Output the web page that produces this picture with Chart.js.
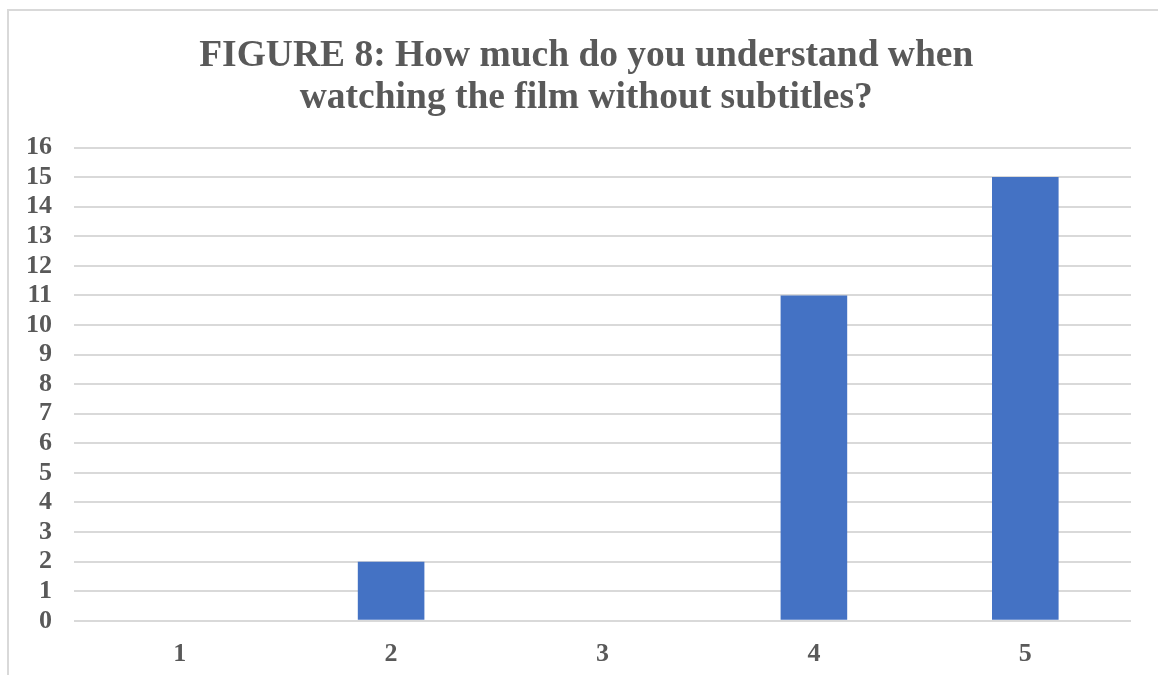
<!DOCTYPE html>
<html>
<head>
<meta charset="utf-8">
<script src="https://cdn.jsdelivr.net/npm/chart.js@4"></script>
<style>
  body { margin: 0; background: #fff; }
  #frame { position: absolute; left: 7px; top: 9px; width: 1170px; height: 690px; border: 2px solid #d9d9d9; }
  #wrap { position: absolute; left: 0; top: 0; width: 1158px; height: 675px; }
</style>
</head>
<body>
<div id="frame"></div>
<div id="wrap"><canvas id="chart"></canvas></div>
<script>
// chart data
var categories = ['1', '2', '3', '4', '5'];
var answers = [0, 2, 0, 11, 15];
var titleLines = ['FIGURE 8: How much do you understand when', 'watching the film without subtitles?'];

var textColor = '#595959';
var gridColor = '#d9d9d9';

// the title sits a bit right of the plot centre in the original
var titleShift = '\u2002\u2002';

const config = {
    type: 'bar',
    data: {
        labels: categories,
        datasets: [{
            label: 'Responses',
            backgroundColor: '#4472c4',
            borderColor: '#4472c4',
            data: answers,
            categoryPercentage: 1,
            barPercentage: 0.315
        }]
    },
    options: {
        responsive: true,
        maintainAspectRatio: false,
        animation: false,
        layout: {
            padding: { left: 4, right: 27, top: 36, bottom: -5 }
        },
        plugins: {
            legend: { display: false },
            tooltip: { enabled: false },
            title: {
                display: true,
                text: titleLines.map(function(t) { return titleShift + t; }),
                color: textColor,
                font: { family: '"Liberation Serif", serif', size: 37.5, weight: 'bold', lineHeight: 1.1 },
                padding: { top: 0, bottom: 29 }
            }
        },
        scales: {
            x: {
                grid: { display: false },
                border: { display: false },
                ticks: {
                    color: textColor,
                    padding: 10,
                    font: { family: '"Liberation Serif", serif', size: 26, weight: 'bold' }
                }
            },
            y: {
                min: 0,
                max: 16,
                grid: { color: gridColor, lineWidth: 2, drawTicks: false },
                border: { display: false },
                ticks: {
                    stepSize: 1,
                    autoSkip: false,
                    color: textColor,
                    padding: 22,
                    font: { family: '"Liberation Serif", serif', size: 26, weight: 'bold' }
                }
            }
        }
    }
};

var myChart = new Chart(document.getElementById('chart'), config);
</script>
</body>
</html>
